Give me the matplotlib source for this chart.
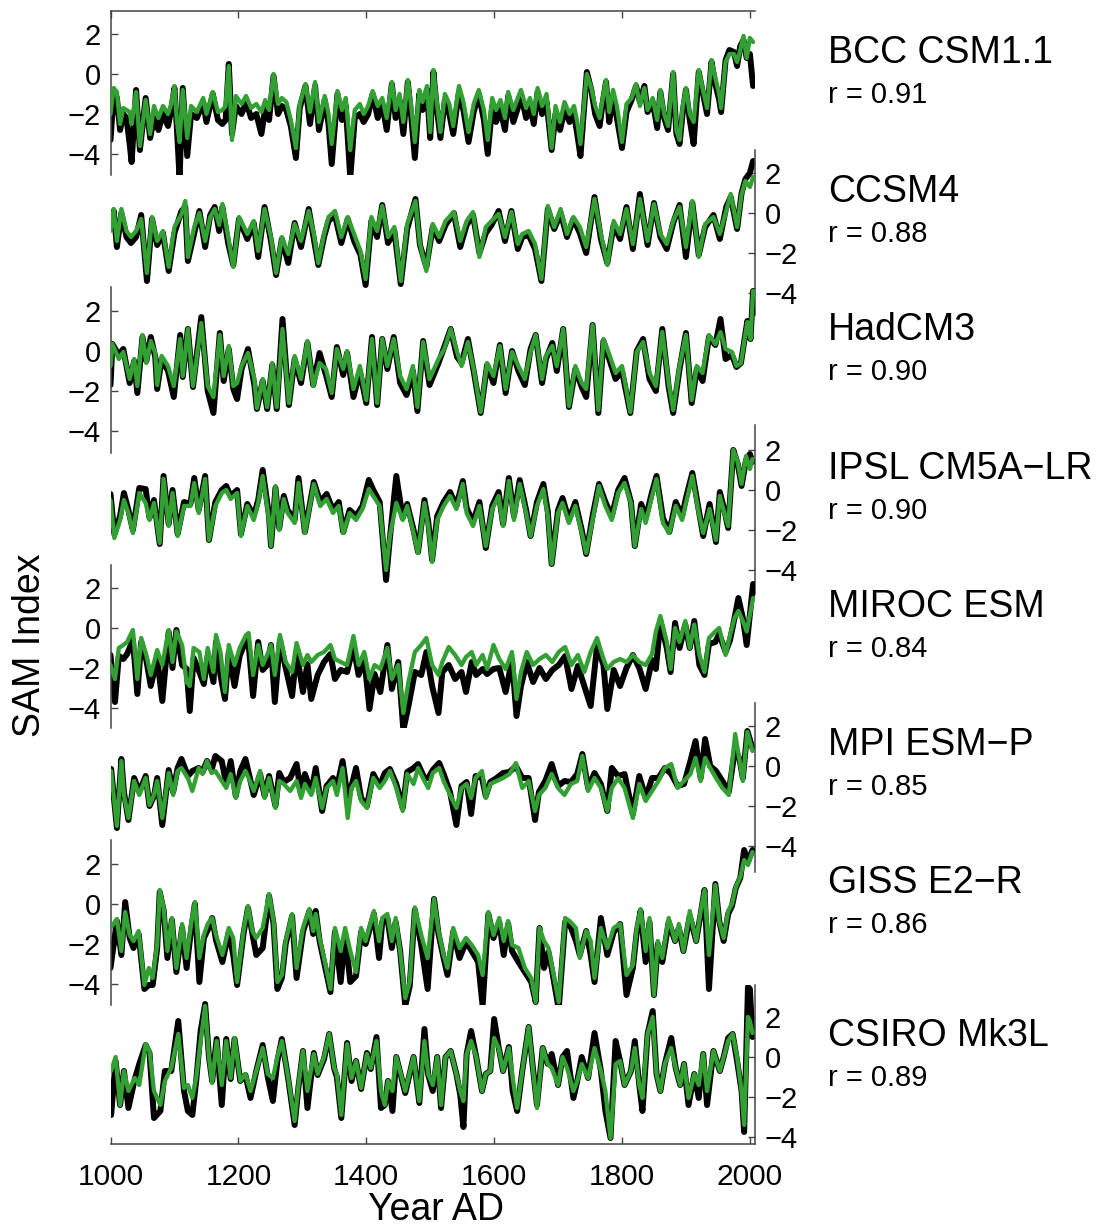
import matplotlib
matplotlib.use("Agg")
import matplotlib.pyplot as plt

plt.rcParams['font.family'] = ['Liberation Sans', 'DejaVu Sans']

models = ["BCC CSM1.1", "CCSM4", "HadCM3", "IPSL CM5A\u2212LR", "MIROC ESM", "MPI ESM\u2212P", "GISS E2\u2212R", "CSIRO Mk3L"]
r_values = ["0.91", "0.88", "0.90", "0.90", "0.84", "0.85", "0.86", "0.89"]
yticks = [-4, -2, 0, 2]
xticks = [1000, 1200, 1400, 1600, 1800, 2000]

# ---------------- BCC CSM1.1 ----------------
years_bcc = [1000,1005,1010,1015,1020,1025,1030,1033,1040,1046,1055,1062,1068,1075,1082,1090,1095,1100,1104,1108,1113,1120,1126,1135,1145,1150,1160,1168,1175,1180,1185,1190,1196,1205,1212,1220,1228,1236,1242,1248,1255,1262,1268,1275,1282,1290,1296,1305,1312,1320,1326,1335,1341,1346,1355,1362,1368,1375,1382,1390,1396,1403,1410,1418,1425,1432,1440,1446,1452,1458,1465,1470,1476,1483,1488,1495,1500,1505,1510,1516,1523,1530,1536,1545,1552,1560,1568,1576,1584,1590,1597,1603,1610,1617,1622,1630,1637,1642,1650,1656,1662,1668,1675,1682,1690,1696,1703,1710,1718,1725,1730,1735,1745,1752,1758,1765,1770,1775,1780,1786,1792,1800,1807,1815,1822,1828,1835,1840,1848,1855,1860,1866,1872,1880,1885,1890,1895,1900,1906,1912,1920,1928,1933,1940,1946,1952,1955,1962,1968,1975,1980,1985,1990,1995,2000,2005]
green_bcc = [-2.0,-0.7,-0.9,-2.5,-1.7,-1.8,-1.9,-2.5,-0.9,-3.6,-1.3,-3.0,-1.6,-2.2,-1.6,-2.0,-1.5,-0.6,-2.4,-3.4,-0.8,-3.2,-1.6,-1.9,-1.2,-2.0,-0.9,-1.9,-1.8,-1.6,0.4,-3.3,-1.1,-1.5,-1.1,-1.7,-1.5,-1.9,-1.3,-1.8,0.0,-1.5,-1.2,-1.4,-2.3,-3.7,-1.5,-0.5,-1.9,-0.4,-2.4,-1.1,-2.0,-3.5,-0.85,-1.8,-1.2,-3.8,-1.8,-1.5,-2.0,-1.6,-0.85,-1.6,-1.2,-2.2,-0.4,-1.8,-1.0,-2.4,-0.3,-1.5,-3.4,-0.8,-1.4,-0.6,-2.9,0.2,-1.3,-2.9,-1.0,-1.5,-2.6,-0.6,-1.4,-2.9,-1.5,-0.8,-1.8,-3.3,-1.2,-1.8,-1.3,-2.2,-0.9,-1.8,-1.2,-0.8,-1.7,-1.2,-2.0,-0.7,-1.6,-1.0,-3.7,-1.6,-2.4,-1.4,-2.0,-1.6,-2.4,-3.5,0.0,-0.7,-1.6,-2.2,-1.2,-0.3,-1.9,-0.8,-1.6,-3.4,-1.5,-1.2,-0.5,-1.6,-0.7,-1.8,-1.2,-2.3,-0.8,-2.0,-2.6,0.1,-2.8,-3.3,-1.6,-0.7,-2.0,-2.4,0.2,-1.0,-1.7,0.7,-0.2,-1.0,-1.7,0.6,1.0,1.0,0.6,1.2,1.9,0.8,1.8,1.6]
black_bcc = [-3.3,-1.0,-1.2,-2.8,-2.0,-2.2,-3.5,-4.4,-0.8,-3.8,-1.2,-3.2,-2.2,-2.8,-2.0,-2.6,-1.8,-0.7,-2.8,-5.2,-0.7,-4.1,-2.0,-2.2,-1.4,-2.4,-1.0,-2.3,-2.5,-2.3,0.5,-3.0,-1.6,-2.0,-1.4,-2.2,-2.0,-3.0,-1.7,-2.3,-0.1,-2.0,-1.6,-1.8,-2.6,-4.2,-1.7,-0.6,-2.5,-0.6,-2.8,-1.3,-2.5,-4.5,-1.0,-2.3,-1.6,-5.2,-2.2,-2.0,-2.4,-2.0,-1.0,-2.2,-1.5,-2.8,-0.5,-2.2,-1.3,-3.0,-0.4,-2.0,-4.2,-1.0,-1.8,-0.8,-3.2,0.1,-1.6,-3.2,-1.3,-2.0,-3.0,-0.9,-1.8,-3.4,-1.9,-1.0,-2.3,-4.0,-1.6,-2.4,-1.8,-2.8,-1.1,-2.4,-1.7,-1.0,-2.2,-1.6,-2.5,-0.9,-2.0,-1.4,-3.8,-2.0,-2.8,-1.8,-2.4,-2.0,-3.0,-4.1,0.1,-0.8,-2.0,-2.6,-1.4,-0.4,-2.4,-1.1,-2.2,-3.7,-1.9,-1.3,-0.6,-1.4,-0.6,-1.9,-1.4,-2.7,-0.9,-2.2,-2.8,0.0,-3.0,-3.5,-1.9,-0.8,-2.3,-3.5,0.1,-1.2,-2.0,0.6,-0.5,-1.3,-1.9,0.7,1.2,1.1,0.4,1.4,1.7,0.8,1.0,-0.6]

# ---------------- CCSM4 ----------------
years_ccsm = [1000,1005,1010,1017,1025,1032,1040,1048,1057,1065,1073,1082,1091,1100,1111,1117,1121,1131,1139,1148,1156,1163,1170,1175,1184,1192,1201,1214,1224,1231,1241,1251,1259,1268,1278,1288,1298,1310,1318,1325,1334,1341,1351,1361,1371,1381,1391,1399,1408,1417,1425,1434,1444,1454,1464,1477,1484,1494,1504,1514,1524,1537,1547,1557,1567,1577,1587,1596,1607,1617,1627,1637,1644,1654,1664,1674,1684,1694,1704,1714,1724,1734,1744,1757,1767,1777,1787,1797,1807,1817,1828,1840,1850,1860,1870,1880,1890,1900,1910,1920,1930,1943,1953,1963,1970,1980,1987,1993,2000,2005]
green_ccsm = [-0.9,0.2,-1.4,0.2,-0.9,-1.2,-0.9,-0.3,-3.0,-0.2,-1.4,-0.9,-2.7,-0.7,-0.05,0.6,-2.2,-0.7,0.0,-1.4,-0.2,0.2,-0.6,0.45,-1.2,-2.7,-0.2,-1.05,-0.4,-1.9,0.2,-1.2,-3.0,-1.2,-2.05,-0.55,-1.4,0.1,-1.05,-2.5,-1.05,-0.2,0.1,-1.2,-0.2,-1.05,-1.9,-3.3,-0.2,-0.9,0.35,-1.2,-0.7,-3.4,-0.55,0.6,-1.55,-2.9,-0.55,-1.2,-0.4,0.05,-1.4,-0.4,0.05,-2.2,-0.7,-0.4,-0.05,-1.2,0.05,-1.55,-1.05,-0.9,-1.55,-3.3,0.35,-0.7,0.2,-1.05,-0.2,-0.7,-1.7,0.7,-1.05,-2.6,-0.4,-1.05,0.2,-1.55,0.7,-1.4,0.45,-1.05,-1.55,-0.4,0.3,-1.7,0.6,-2.2,-0.55,-0.2,-1.05,0.1,0.95,-0.7,0.95,1.6,1.3,1.8]
black_ccsm = [-0.8,0.1,-1.7,0.0,-1.2,-1.5,-1.2,-0.1,-3.4,-0.3,-1.6,-1.0,-2.9,-1.0,0.1,0.3,-2.4,-1.0,0.1,-1.7,-0.1,0.3,-0.9,0.3,-1.5,-2.6,-0.3,-1.3,-0.5,-2.2,0.3,-1.4,-3.1,-1.3,-2.5,-0.5,-1.7,0.2,-1.3,-2.6,-1.2,-0.4,-0.1,-1.5,-0.3,-1.4,-2.1,-3.6,-0.4,-1.2,0.4,-1.5,-0.9,-3.55,-0.8,0.7,-1.6,-2.7,-0.7,-1.4,-0.6,0.0,-1.7,-0.6,-0.1,-2.0,-1.0,-0.6,0.1,-1.4,0.1,-1.8,-1.2,-1.1,-1.8,-3.4,0.2,-0.8,0.0,-1.2,-0.3,-1.0,-2.0,0.8,-1.3,-2.5,-0.6,-1.3,0.3,-1.8,0.95,-1.6,0.5,-1.2,-1.8,-0.5,0.4,-2.2,0.5,-2.1,-0.7,-0.1,-1.3,0.3,0.8,-0.8,1.0,1.7,2.0,2.6]

# ---------------- HadCM3 ----------------
years_had = [1000,1003,1013,1020,1030,1037,1042,1050,1056,1063,1070,1073,1080,1090,1099,1109,1113,1121,1129,1142,1152,1161,1171,1177,1185,1192,1198,1205,1215,1225,1229,1238,1245,1253,1260,1269,1279,1288,1298,1308,1317,1327,1337,1346,1354,1364,1370,1380,1390,1400,1409,1417,1425,1433,1443,1453,1463,1473,1480,1489,1499,1513,1522,1532,1542,1549,1559,1568,1579,1589,1599,1609,1618,1628,1638,1648,1657,1665,1675,1681,1691,1698,1708,1717,1727,1737,1744,1754,1763,1771,1781,1790,1800,1813,1823,1833,1843,1853,1863,1873,1880,1890,1900,1909,1917,1926,1936,1946,1954,1962,1972,1979,1986,1996,2001,2005]
green_had = [-0.75,0.35,-0.4,-0.05,-1.4,-0.4,-1.75,0.8,-0.6,0.5,-0.1,-1.7,-0.25,-0.75,-1.75,0.6,-1.25,1.1,-1.75,1.4,-1.75,-2.3,0.8,-1.25,0.25,-1.75,-1.6,-0.75,-0.1,-1.4,-2.85,-1.4,-2.8,-0.6,-2.8,1.1,-2.6,-0.25,-1.4,0.5,-1.75,-0.6,-0.9,-2.1,0.1,-0.9,0.0,-1.9,-0.75,-2.45,0.6,-2.6,0.6,-0.75,0.6,-1.25,-1.9,-0.75,-2.8,0.45,-1.4,-0.4,0.1,1.1,-0.05,-0.75,0.45,-0.9,-3.05,-0.6,-1.25,0.25,-1.9,-0.05,-0.75,-1.4,-0.05,0.8,-1.4,-0.25,0.25,-0.75,1.1,-2.75,-0.75,-1.6,-1.9,1.3,-2.95,0.6,-0.25,-1.1,-0.75,-3.05,-0.05,0.45,-1.1,-1.75,0.95,-1.6,-2.95,-0.75,0.8,-2.45,-0.75,-1.1,0.8,0.35,0.95,0.1,-0.05,-0.75,-0.6,1.45,0.6,3.0]
black_had = [-1.7,0.35,-0.2,0.1,-1.6,-0.5,-2.1,0.7,-0.5,0.7,-0.3,-1.9,-0.4,-1.0,-2.3,0.8,-1.3,1.1,-1.8,1.7,-2.0,-3.1,0.9,-1.5,0.1,-1.9,-2.4,-0.9,0.1,-1.7,-2.9,-1.5,-2.9,-0.7,-2.9,1.6,-2.7,-0.4,-1.6,0.4,-1.7,-0.1,-1.2,-2.3,0.2,-1.2,-0.1,-2.3,-1.0,-2.6,0.7,-2.7,0.6,-0.9,0.7,-1.6,-2.2,-1.0,-3.0,0.5,-1.7,-0.6,0.2,1.1,-0.3,-0.6,0.6,-1.0,-3.1,-0.7,-1.6,0.3,-2.1,0.0,-1.0,-1.7,0.1,0.8,-1.6,-0.4,0.4,-1.0,1.1,-2.8,-0.9,-1.8,-2.3,1.3,-3.1,0.5,-0.5,-1.4,-1.0,-3.1,0.0,0.6,-1.4,-2.0,1.1,-1.8,-3.1,-0.9,0.9,-2.6,-0.9,-1.5,0.7,0.3,1.6,-0.4,-0.2,-0.8,-0.6,1.5,0.6,3.0]

# ---------------- IPSL CM5A-LR ----------------
years_ipsl = [1000,1006,1015,1021,1028,1035,1045,1055,1061,1068,1077,1083,1091,1097,1105,1115,1125,1131,1138,1148,1154,1164,1174,1181,1188,1198,1204,1214,1224,1231,1238,1248,1251,1258,1264,1271,1277,1288,1294,1304,1318,1328,1338,1348,1357,1364,1374,1384,1394,1404,1411,1421,1431,1437,1447,1457,1464,1474,1481,1491,1497,1503,1511,1521,1531,1541,1551,1557,1567,1577,1587,1597,1607,1614,1623,1631,1640,1650,1657,1667,1677,1684,1690,1700,1707,1717,1727,1737,1744,1754,1764,1774,1784,1794,1804,1814,1820,1830,1837,1847,1854,1864,1874,1884,1894,1900,1910,1920,1927,1937,1947,1953,1960,1966,1974,1981,1987,1994,2000,2004]
green_ipsl = [-0.5,-2.4,-1.5,-0.5,-1.15,-2.15,-0.15,-0.65,-1.5,-0.65,-2.65,0.55,-1.8,-0.15,-2.3,-0.8,-0.8,0.35,-1.15,0.55,-2.5,-0.8,-0.15,0.0,-0.45,-0.15,-2.3,-0.8,-1.5,-0.65,0.7,-1.5,-2.8,0.2,-2.0,-0.45,-1.15,-1.65,0.35,-2.15,0.3,-0.8,-0.45,-1.15,-0.8,-2.15,-1.15,-1.5,-0.95,0.05,-0.3,-0.8,-4.0,-2.3,-0.65,-1.5,-0.8,-2.15,-3.15,-0.65,-1.8,-3.6,-1.5,-0.8,-0.3,-0.95,0.3,-1.15,-1.8,-0.8,-2.8,-0.95,-0.3,-1.8,0.45,-1.5,0.3,-1.15,-2.3,-0.8,0.05,-1.3,-3.7,-1.15,-0.65,-1.65,-0.8,-2.15,-3.15,-1.5,0.2,-0.8,-1.5,-0.15,0.35,-0.65,-2.8,-0.95,-1.65,-0.3,0.55,-1.65,-2.15,-0.8,-1.5,-0.65,0.7,-1.15,-2.15,-0.95,-2.5,-0.3,-1.15,-1.8,2.0,1.4,0.3,1.7,1.05,1.55]
black_ipsl = [-0.2,-2.2,-1.3,-0.15,-1.0,-2.0,0.1,0.05,-1.4,-0.5,-2.7,0.7,-1.7,0.0,-2.2,-0.6,-0.7,0.6,-1.0,0.7,-2.5,-0.6,0.0,0.2,-0.3,0.0,-2.2,-0.7,-1.3,-0.5,1.0,-1.3,-2.8,0.1,-1.9,-0.3,-1.0,-1.5,0.6,-2.1,0.4,-0.6,-0.2,-1.0,-0.6,-2.1,-1.0,-1.3,-0.8,0.5,0.0,-0.6,-4.5,-2.4,0.7,-1.4,-0.7,-2.0,-3.1,-0.5,-1.6,-3.5,-1.3,-0.6,-0.1,-0.8,0.45,-0.9,-1.6,-0.6,-2.9,-0.8,-0.1,-1.7,0.6,-1.3,0.5,-1.0,-2.3,-0.6,0.3,-1.1,-3.7,-1.0,-0.4,-1.5,-0.6,-2.0,-3.2,-1.3,0.3,-0.6,-1.3,0.0,0.6,-0.6,-2.8,-0.7,-1.4,-0.1,0.7,-1.4,-2.1,-0.6,-1.3,-0.4,0.85,-1.0,-2.3,-0.7,-2.6,-0.1,-1.0,-1.9,2.0,1.3,0.2,1.5,1.8,1.4]

# ---------------- MIROC ESM ----------------
years_miroc = [1000,1007,1013,1020,1026,1035,1042,1048,1056,1063,1073,1081,1091,1097,1103,1112,1119,1124,1130,1139,1146,1152,1161,1165,1172,1179,1185,1194,1202,1212,1216,1223,1231,1238,1245,1251,1257,1265,1274,1284,1291,1301,1308,1314,1324,1334,1344,1351,1360,1370,1380,1388,1397,1405,1413,1422,1433,1440,1450,1458,1466,1476,1486,1494,1503,1513,1519,1529,1539,1549,1556,1565,1572,1582,1589,1599,1608,1618,1628,1635,1642,1651,1661,1671,1681,1691,1701,1711,1721,1731,1741,1751,1761,1771,1777,1787,1797,1807,1817,1827,1837,1847,1853,1860,1870,1876,1883,1890,1899,1906,1913,1921,1929,1936,1946,1952,1962,1969,1976,1982,1989,1995,2005]
green_miroc = [-1.85,-2.55,-1.0,-0.85,-0.7,-0.1,-2.55,-0.5,-1.35,-2.35,-1.1,-1.85,-0.1,-1.7,-0.17,-0.85,-2.7,-2.9,-1.0,-1.2,-2.55,-1.0,-2.2,-0.35,-1.2,-3.2,-0.85,-1.85,-1.0,-0.35,-0.25,-2.35,-0.85,-1.85,-1.35,-0.85,-2.35,-0.35,-1.7,-2.2,-0.75,-1.85,-1.35,-1.7,-1.35,-1.2,-0.85,-1.55,-1.7,-1.85,-0.4,-1.85,-1.2,-2.55,-1.85,-2.05,-1.0,-2.55,-1.85,-4.25,-2.7,-1.2,-0.85,-0.5,-1.85,-2.35,-1.7,-0.95,-1.35,-1.85,-1.45,-1.2,-1.85,-1.35,-2.05,-0.85,-1.55,-2.05,-1.2,-3.55,-2.2,-1.2,-1.85,-1.55,-1.35,-1.7,-1.2,-0.95,-1.85,-1.35,-2.2,-1.2,-0.5,-1.55,-2.05,-1.7,-1.55,-1.7,-1.35,-1.7,-1.85,-1.3,-0.17,0.6,-0.7,-2.05,0.0,-0.7,0.35,-1.0,0.17,-1.35,-2.2,-0.5,-0.17,0.0,-1.35,-0.35,0.5,0.85,0.35,-0.17,1.5]
black_miroc = [-1.35,-3.7,-1.4,-1.55,-1.3,-0.6,-3.3,-0.7,-1.6,-2.9,-1.5,-3.65,-0.2,-2.0,-0.1,-1.85,-2.05,-4.15,-1.5,-2.2,-2.8,-1.4,-2.7,-0.7,-2.35,-3.55,-1.2,-2.9,-1.4,-0.6,-0.8,-3.4,-0.7,-2.1,-1.85,-0.85,-3.7,-0.6,-2.0,-3.4,-1.2,-3.2,-1.8,-3.55,-2.35,-1.7,-1.3,-2.55,-2.1,-2.2,-0.9,-2.35,-1.55,-4.05,-2.3,-3.2,-0.85,-3.05,-1.7,-5.1,-3.9,-2.2,-2.35,-1.2,-2.9,-4.25,-2.2,-1.85,-2.55,-2.2,-3.2,-1.7,-2.35,-2.05,-2.3,-2.05,-2.0,-3.2,-1.6,-4.4,-2.9,-1.7,-2.7,-2.0,-2.55,-2.1,-1.85,-1.4,-3.05,-1.9,-2.9,-3.9,-0.9,-1.85,-4.05,-2.1,-2.9,-2.0,-1.35,-2.0,-3.05,-1.6,-2.05,0.35,-1.0,-2.2,0.25,-1.0,0.17,-1.0,0.35,-1.85,-2.35,-0.8,-0.7,-0.3,-1.2,-0.6,0.5,1.5,0.5,-0.85,2.2]

# ---------------- MPI ESM-P ----------------
years_mpi = [1001,1010,1017,1021,1028,1037,1045,1055,1061,1068,1073,1081,1091,1098,1105,1111,1121,1128,1138,1144,1151,1158,1164,1174,1181,1188,1196,1203,1211,1218,1224,1234,1241,1248,1258,1264,1271,1281,1291,1298,1304,1314,1321,1331,1338,1348,1354,1363,1371,1377,1384,1392,1401,1411,1421,1429,1437,1447,1457,1464,1474,1481,1491,1497,1504,1514,1521,1531,1541,1549,1557,1564,1571,1581,1587,1594,1604,1614,1624,1634,1644,1654,1664,1670,1680,1690,1700,1710,1720,1730,1738,1747,1757,1767,1777,1784,1794,1804,1817,1827,1837,1847,1857,1867,1877,1887,1897,1907,1915,1923,1930,1938,1947,1957,1967,1977,1984,1989,1996,2004]
green_mpi = [-0.25,-3.0,0.25,-1.45,-2.6,-0.75,-1.45,-0.6,-1.95,-1.45,-0.75,-2.6,-0.35,-1.45,-0.25,-0.1,-0.6,-1.25,-0.1,-0.4,0.25,-0.35,-0.25,-0.75,-1.1,-0.4,-1.6,-0.75,-0.25,-0.75,-1.25,-0.25,-1.6,-0.6,-2.1,-0.75,-0.9,-1.25,-0.75,-1.6,-0.9,-1.45,-0.6,-2.1,-1.1,-0.75,-1.45,-0.1,-2.6,-1.1,-0.75,-1.75,-2.1,-0.6,-1.1,-0.75,-0.25,-1.1,-2.25,-0.4,-0.9,-0.1,-0.75,-1.1,-0.35,-0.1,-0.75,-1.45,-2.1,-1.1,-0.9,-1.6,-0.6,-0.25,-1.6,-0.9,-0.75,-0.6,-0.4,0.15,-1.1,-0.75,-2.25,-1.45,-1.1,-0.4,-1.1,-1.45,-0.9,-0.75,0.5,-1.25,-0.6,-1.1,-2.25,-1.1,-0.6,-1.1,-2.6,-0.9,-1.75,-1.25,-0.75,-0.1,0.1,-1.1,-0.75,-0.4,0.4,-0.75,0.4,-0.1,-0.6,-1.1,-1.45,1.6,0.25,-0.75,1.7,0.75]
black_mpi = [-0.15,-3.1,0.35,-1.3,-2.7,-0.6,-1.3,-0.5,-2.0,-1.5,-0.6,-2.95,-0.2,-1.3,-0.1,0.35,-0.5,-0.25,-0.1,-0.3,0.25,-0.2,0.5,0.25,-0.9,0.25,-1.5,-0.25,0.35,-0.6,-1.45,-0.4,-1.5,-0.5,-2.0,-0.35,-0.8,-0.6,0.1,-1.4,-0.4,-1.3,-0.1,-2.25,-1.0,-0.6,-1.1,0.25,-1.6,-1.0,-0.1,-1.6,-2.0,-0.4,-1.0,-0.35,-0.15,-0.9,-2.1,-0.3,-0.1,0.1,-0.6,-0.6,-0.2,0.15,-0.4,-1.3,-2.95,-1.0,-0.8,-2.4,-0.5,-0.6,-1.5,-0.8,-0.6,-0.35,-0.3,0.0,-0.6,-0.6,-2.7,-1.3,-0.75,0.1,-1.0,-0.75,-0.8,-0.4,0.6,-1.1,-0.35,-0.9,-2.25,-0.1,-0.5,-0.4,-2.4,-0.5,-1.6,-0.6,-0.6,-0.1,-0.4,-1.0,-0.9,0.25,1.25,-0.6,1.35,0.0,-0.25,-0.75,-1.3,0.9,0.3,-0.6,1.75,0.9]

# ---------------- GISS E2-R ----------------
years_giss = [1000,1010,1017,1023,1030,1036,1044,1053,1060,1066,1073,1077,1083,1089,1096,1103,1112,1119,1126,1132,1139,1146,1152,1159,1165,1175,1185,1192,1198,1208,1215,1222,1228,1238,1248,1255,1261,1268,1274,1284,1291,1301,1311,1317,1321,1327,1334,1344,1351,1360,1367,1375,1384,1392,1399,1412,1420,1425,1433,1440,1446,1453,1461,1468,1476,1486,1496,1506,1513,1521,1527,1536,1546,1556,1565,1575,1582,1591,1599,1608,1615,1622,1628,1638,1648,1658,1665,1671,1678,1685,1691,1701,1711,1718,1728,1734,1744,1751,1757,1767,1777,1787,1797,1807,1817,1823,1829,1837,1843,1850,1856,1863,1873,1883,1889,1896,1906,1916,1923,1929,1936,1946,1952,1959,1966,1972,1978,1985,1991,1997,2004]
green_giss = [-1.2,-0.75,-2.35,-0.4,-1.55,-1.85,-1.35,-4.05,-3.2,-3.7,-2.05,0.7,-0.17,-2.35,-0.7,-3.2,-1.0,-2.7,-1.0,0.1,-2.7,-1.55,-1.0,-0.7,-1.55,-2.55,-1.2,-1.7,-3.9,-1.35,-0.1,-1.35,-1.7,-1.2,0.5,-0.85,-3.9,-3.55,-1.85,-0.5,-3.2,-1.2,-0.25,-1.35,-0.5,-1.7,-2.7,-4.25,-1.2,-2.35,-1.2,-2.35,-3.4,-1.2,-1.85,-0.35,-1.85,-0.7,-0.5,-1.85,-0.7,-2.35,-4.7,-3.9,-0.17,-1.55,-2.7,0.25,-1.35,-2.55,-3.2,-1.2,-2.2,-1.7,-2.05,-2.55,-3.55,-0.4,-1.55,-0.7,-1.85,-0.85,-2.05,-2.2,-3.2,-3.7,-4.9,-1.2,-1.85,-2.2,-3.2,-4.9,-0.7,-0.85,-1.2,-2.7,-1.35,-1.85,-3.7,-1.2,-2.2,-1.2,-1.0,-3.55,-3.05,-1.2,-0.25,-2.35,-0.7,-4.55,-1.85,-2.7,-0.7,-1.85,-1.0,-2.35,-0.35,-1.85,-0.35,0.7,-2.55,0.95,-0.85,-1.7,-0.35,0.0,0.85,1.35,2.2,1.95,2.6]
black_giss = [-3.2,-0.85,-2.55,0.1,-1.7,-2.2,-1.5,-4.25,-4.05,-4.05,-2.2,0.6,-0.3,-2.7,-0.8,-3.4,-1.2,-3.2,-1.3,0.0,-3.9,-1.7,-1.3,-0.7,-1.8,-2.9,-1.4,-2.55,-4.05,-1.5,-0.2,-1.5,-2.55,-2.2,0.4,-1.0,-4.25,-3.7,-2.0,-0.6,-3.7,-1.4,-0.35,-1.5,-0.35,-1.85,-2.9,-4.4,-1.4,-3.9,-1.5,-3.9,-3.6,-1.4,-2.0,-0.5,-2.7,-0.9,-0.7,-2.2,-0.9,-2.35,-5.1,-4.1,-0.3,-2.05,-4.25,0.25,-1.5,-2.7,-3.55,-1.4,-2.7,-1.9,-2.35,-2.9,-5.1,-0.5,-1.7,-0.9,-2.55,-1.0,-2.35,-2.9,-3.4,-3.9,-4.9,-1.2,-3.2,-2.4,-3.4,-5.25,-0.9,-1.0,-1.85,-2.55,-1.35,-2.55,-3.9,-0.7,-2.55,-1.4,-1.0,-4.55,-3.2,-1.4,-0.35,-2.9,-0.9,-4.55,-2.0,-2.9,-0.9,-1.85,-1.2,-2.35,-0.6,-1.85,-0.5,0.7,-4.25,1.0,-0.85,-1.85,-0.5,-0.1,0.8,1.3,2.7,2.1,2.7]

# ---------------- CSIRO Mk3L ----------------
years_csiro = [1001,1008,1015,1021,1028,1038,1045,1055,1061,1068,1078,1085,1095,1106,1115,1121,1128,1134,1141,1148,1154,1159,1166,1174,1181,1188,1194,1203,1211,1219,1228,1238,1246,1254,1261,1268,1278,1288,1294,1301,1308,1318,1324,1334,1342,1350,1354,1361,1370,1377,1384,1392,1401,1407,1416,1423,1429,1434,1441,1447,1454,1461,1474,1483,1491,1497,1504,1511,1517,1524,1532,1541,1547,1552,1557,1564,1572,1581,1587,1594,1600,1607,1614,1623,1629,1636,1644,1654,1660,1667,1676,1684,1690,1700,1707,1714,1724,1730,1737,1747,1757,1767,1774,1782,1790,1797,1804,1814,1820,1827,1832,1840,1848,1854,1860,1867,1877,1884,1891,1897,1904,1913,1920,1927,1933,1943,1953,1959,1966,1973,1980,1987,1991,1997,2000,2004]
green_csiro = [-0.7,0.0,-2.4,-0.7,-1.7,-1.05,-1.4,0.65,0.3,-1.7,-2.4,-1.2,-0.55,1.15,-1.55,-1.4,-2.05,-1.05,0.8,2.55,0.0,-1.3,0.8,-1.4,0.8,-1.05,0.95,-1.2,-0.85,-1.7,-0.7,0.45,-0.85,-1.05,0.0,0.8,-1.05,-3.2,-1.4,0.3,-1.7,0.15,-0.85,0.0,1.15,-0.55,-0.85,-2.9,0.65,-1.05,-0.2,-1.55,0.15,-0.55,0.8,-1.7,-2.4,-1.2,-1.7,0.0,-0.85,-1.7,0.0,-2.2,0.8,-0.85,-1.4,0.0,-2.4,0.0,0.3,-0.85,-1.7,-2.2,0.15,0.8,0.0,-1.7,-0.85,-0.7,0.95,0.45,-0.7,0.45,-1.05,-2.55,-0.7,1.5,-0.35,-2.55,0.45,-0.35,-0.55,-1.4,0.0,-0.55,-1.7,-1.2,-0.35,-1.05,0.45,-0.7,-1.7,-4.05,-0.35,-0.2,-1.4,-0.7,0.45,-1.4,-2.05,1.15,2.0,-0.85,-1.7,-0.35,0.45,-0.55,-1.4,-0.35,-2.05,-0.85,-1.4,0.15,-1.7,0.3,-0.7,0.0,0.8,1.15,0.0,-1.7,-3.4,2.0,1.8,1.2]
black_csiro = [-2.9,-0.2,-2.4,-0.7,-2.55,-1.1,-0.35,0.6,0.2,-3.05,-2.7,-0.7,-0.7,1.8,-1.7,-2.7,-2.9,-1.2,1.3,2.65,0.0,-1.2,0.9,-2.4,0.9,-1.1,0.9,-1.2,-0.9,-2.05,-0.7,0.6,-1.0,-2.2,-0.2,0.9,-1.1,-3.4,-1.5,0.3,-2.55,0.2,-0.9,-0.1,1.15,-0.6,-1.0,-3.05,0.7,-1.2,-0.2,-1.6,0.2,-0.6,1.0,-2.55,-2.4,-1.2,-2.7,0.0,-0.9,-1.8,0.0,-2.3,1.4,-0.9,-1.7,0.0,-2.55,0.0,0.3,-0.85,-1.9,-3.5,0.15,1.3,0.0,-1.7,-0.85,-0.7,1.9,0.5,-0.7,0.5,-1.7,-2.7,-0.7,1.5,-0.35,-2.4,0.45,-0.35,0.15,-1.4,0.0,0.3,-2.05,-1.2,0.0,-1.05,1.2,-0.7,-2.7,-4.05,0.8,-0.2,-1.4,-0.7,0.8,-1.4,-2.7,1.15,2.3,-0.85,-1.7,-0.35,0.95,-0.55,-1.4,-0.35,-2.4,-0.85,-2.05,0.15,-2.4,0.3,-0.7,0.0,0.95,1.15,-0.2,-1.7,-3.75,3.5,3.4,1.0]

panels = [
    (years_bcc, black_bcc, green_bcc),
    (years_ccsm, black_ccsm, green_ccsm),
    (years_had, black_had, green_had),
    (years_ipsl, black_ipsl, green_ipsl),
    (years_miroc, black_miroc, green_miroc),
    (years_mpi, black_mpi, green_mpi),
    (years_giss, black_giss, green_giss),
    (years_csiro, black_csiro, green_csiro),
]
for i, (yy, bb, gg) in enumerate(panels):
    if not (len(yy) == len(bb) == len(gg)):
        raise ValueError(f"panel {i}: years {len(yy)} black {len(bb)} green {len(gg)}")

# ---------------- layout (pixels) ----------------
W, H = 1104, 1229
x_left, x_right = 110.5, 755.0
zero_px = [74, 213, 351, 490, 628, 766, 904, 1057]
ylims = [(-5.05, 3.15), (-5.1, 3.15), (-5.1, 3.2), (-5.2, 3.25),
         (-5.0, 3.15), (-5.3, 3.15), (-5.05, 3.2), (-4.35, 3.6)]
ppu = 20.0
GREEN = '#33a033'
SPINE = '#444444'

fig = plt.figure(figsize=(W / 100, H / 100), dpi=100)

for i, (yy, bb, gg) in enumerate(panels):
    lo, hi = ylims[i]
    top = zero_px[i] - hi * ppu
    bot = zero_px[i] - lo * ppu
    ax = fig.add_axes([x_left / W, 1 - bot / H, (x_right - x_left) / W, (bot - top) / H])
    ax.patch.set_visible(False)
    ax.plot(yy, bb, color='black', lw=4.3, solid_joinstyle='round', solid_capstyle='round', zorder=2)
    ax.plot(yy, gg, color=GREEN, lw=3.1, solid_joinstyle='round', solid_capstyle='round', zorder=3)
    ax.set_xlim(1000, 2008)
    ax.set_ylim(lo, hi)
    for s in ax.spines.values():
        s.set_visible(False)
    side = 'left' if i % 2 == 0 else 'right'
    ax.spines[side].set_visible(True)
    ax.spines[side].set_color(SPINE)
    ax.spines[side].set_linewidth(1.1)
    ax.set_yticks(yticks)
    ax.tick_params(axis='y', direction='in', length=5, width=1, color=SPINE,
                   left=(side == 'left'), right=(side == 'right'),
                   labelleft=(side == 'left'), labelright=(side == 'right'),
                   labelsize=21, pad=7)
    ax.set_xticks(xticks)
    if i == 0:
        ax.spines['top'].set_visible(True)
        ax.spines['top'].set_color(SPINE)
        ax.spines['top'].set_linewidth(1.1)
        ax.tick_params(axis='x', direction='in', length=5, width=1, color=SPINE,
                       top=True, bottom=False, labeltop=False, labelbottom=False)
    elif i == len(panels) - 1:
        ax.spines['bottom'].set_visible(True)
        ax.spines['bottom'].set_color(SPINE)
        ax.spines['bottom'].set_linewidth(1.1)
        ax.tick_params(axis='x', direction='in', length=5, width=1, color=SPINE,
                       top=False, bottom=True, labelbottom=True, labelsize=21.5, pad=14)
    else:
        ax.tick_params(axis='x', top=False, bottom=False, labelbottom=False, labeltop=False)

    fig.text(828 / W, 1 - (zero_px[i] - 21) / H, models[i], fontsize=27, ha='left', va='center')
    fig.text(828 / W, 1 - (zero_px[i] + 21) / H, "r = " + r_values[i], fontsize=21, ha='left', va='center')

fig.text(30 / W, 1 - 645 / H, "SAM Index", fontsize=27, rotation=90, ha='center', va='center')
fig.text(436 / W, 1 - 1210 / H, "Year AD", fontsize=27, ha='center', va='center')

fig.savefig("out.png", dpi=100)
